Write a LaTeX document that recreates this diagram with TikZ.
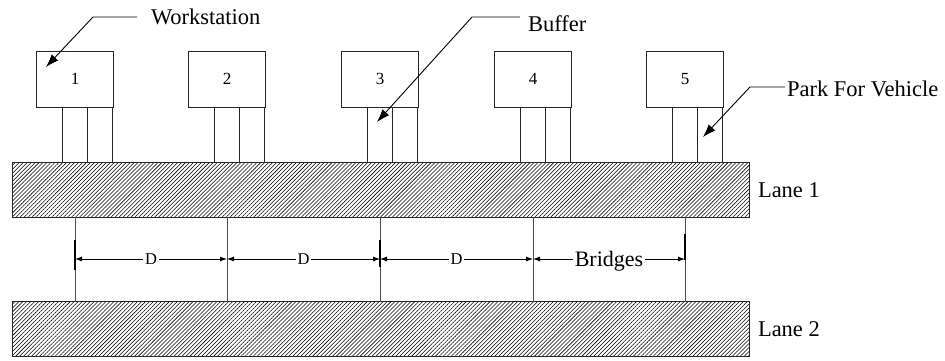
\documentclass[tikz,border=0pt]{standalone}
\usepackage{fontspec}
\setmainfont{Liberation Serif}
\usetikzlibrary{patterns.meta,arrows.meta}
\begin{document}
\begin{tikzpicture}[x=1pt,y=-1pt,
  every node/.style={inner sep=0pt, outer sep=0pt},
  station/.style={draw=black!85, line width=0.9pt, minimum width=77pt, minimum height=56pt,
                  font=\fontsize{17}{17}\selectfont},
  buffer/.style={draw=black!85, line width=0.9pt, minimum width=25pt, minimum height=55pt},
  lane/.style={draw=black!85, line width=0.9pt, minimum width=737pt, minimum height=55pt,
               pattern={Lines[angle=45,distance=2.8pt,line width=0.55pt]}},
  lbl/.style={font=\fontsize{22.5}{22.5}\selectfont, anchor=west, text depth=0pt},
  leader/.style={line width=0.9pt, -{Latex[length=13pt,width=9pt]}},
  bridge/.style={draw=black!70, line width=0.9pt},
  tick/.style={line width=2pt},
  dim/.style={line width=0.8pt, {Latex[length=7pt,width=5pt]}-{Latex[length=7pt,width=5pt]}},
  dimlbl/.style={fill=white, inner xsep=2pt, text depth=0pt}
]
\useasboundingbox (0,0) rectangle (945,360);

% the two lanes
\node[lane] (lane1) at (380.5,189.5) {};
\node[lane] (lane2) at (380.5,329) {};
\node[lbl] (l1) at (758,190) {Lane 1};
\node[lbl] (l2) at (758,329) {Lane 2};

% workstations with their two buffer slots, and the bridges below them
\foreach \n/\c in {1/75,2/227,3/380,4/533,5/685} {
  \node[station] (ws\n) at (\c,79) {\n};
  \node[buffer] (ws\n a) at (\c,134.5) {};
  \node[buffer] (ws\n b) at (\c+25,134.5) {};
  \draw[bridge] (lane1.south -| ws\n) -- (lane2.north -| ws\n);
}

% spacing between bridges
\coordinate (dimrow) at (0,259);
\draw[dim] (dimrow -| ws1) -- node[dimlbl, font=\fontsize{16.5}{16.5}\selectfont] (d1) {D} (dimrow -| ws2);
\draw[dim] (dimrow -| ws2) -- node[dimlbl, font=\fontsize{16.5}{16.5}\selectfont] (d2) {D} (dimrow -| ws3);
\draw[dim] (dimrow -| ws3) -- node[dimlbl, font=\fontsize{16.5}{16.5}\selectfont] (d3) {D} (dimrow -| ws4);
\draw[dim] (dimrow -| ws4) -- node[dimlbl, font=\fontsize{22}{22}\selectfont] (d4) {Bridges} (dimrow -| ws5);
\draw[tick] (75,240) -- (75,270);
\draw[tick] (380,240) -- (380,267);
\draw[tick] (685,234) -- (685,260);

% callouts
\node[lbl] (wslbl) at (151,17) {Workstation};
\coordinate (wsbend) at (93,17);
\coordinate (wstip) at (46,67);
\draw[leader] ([xshift=-14pt]wslbl.west) -- (wsbend) -- (wstip);

\node[lbl] (buflbl) at (528,24) {Buffer};
\coordinate (bufbend) at (472,17);
\coordinate (buftip) at (377,122);
\draw[leader] ([xshift=-8pt,yshift=7pt]buflbl.west) -- (bufbend) -- (buftip);

\node[lbl] (parklbl) at (787,89) {Park For Vehicle};
\coordinate (parkbend) at (750,87);
\coordinate (parktip) at (703,137);
\draw[leader] ([xshift=-2pt,yshift=2pt]parklbl.west) -- (parkbend) -- (parktip);
\end{tikzpicture}
\end{document}
